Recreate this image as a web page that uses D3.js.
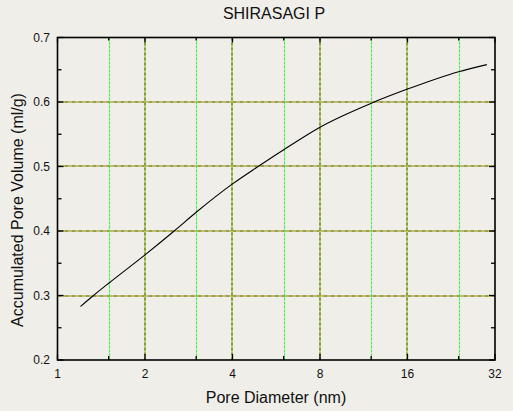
<!DOCTYPE html>
<html><head><meta charset="utf-8">
<script src="https://cdn.jsdelivr.net/npm/d3@7"></script>
<style>body{margin:0;background:#efeee9;}svg{display:block;font-family:"Liberation Sans",Arial,sans-serif;}</style>
</head><body>
<script>
const title = "SHIRASAGI P";
const xLabel = "Pore Diameter (nm)";
const yLabel = "Accumulated Pore Volume (ml/g)";
const poreDiameter = [1.2, 1.33, 1.5, 2, 2.52, 3, 4, 4.9, 6, 8, 12, 16, 24, 30];
const poreVolume  = [0.283, 0.300, 0.319, 0.363, 0.400, 0.429, 0.473, 0.500, 0.526, 0.561, 0.598, 0.620, 0.647, 0.658];
const xMajorTicks = [1, 2, 4, 8, 16, 32];
const xMinorTicks = [1.5, 3, 6, 12, 24];
const yMajorTicks = [0.2, 0.3, 0.4, 0.5, 0.6, 0.7];
const yMinorTicks = [0.25, 0.35, 0.45, 0.55, 0.65];

const W = 513, H = 411;
const m = {l: 57.5, r: 495, t: 37.5, b: 360};
const svg = d3.select("body").append("svg").attr("width", W).attr("height", H);
svg.append("rect").attr("width", W).attr("height", H).attr("fill", "#efeee9");

const x = d3.scaleLog().base(2).domain([1, 32]).range([m.l, m.r]);
const y = d3.scaleLinear().domain([0.2, 0.7]).range([m.b, m.t]);
const snap = v => Math.round(v);

const g = svg.append("g");
// horizontal grid
yMajorTicks.filter(v => v > 0.2 && v < 0.7).forEach(v => {
  const yy = snap(y(v));
  g.append("line").attr("x1", m.l).attr("x2", m.r).attr("y1", yy).attr("y2", yy)
    .attr("stroke", "#d4d49a").attr("stroke-width", 1.5);
  g.append("line").attr("x1", m.l).attr("x2", m.r).attr("y1", yy).attr("y2", yy)
    .attr("stroke", "#8a8a24").attr("stroke-width", 1.5).attr("stroke-dasharray", "4,1,1,1");
});
// minor vertical grid
xMinorTicks.forEach(v => {
  const xx = snap(x(v)) + 0.5;
  g.append("line").attr("x1", xx).attr("x2", xx).attr("y1", m.t).attr("y2", m.b)
    .attr("stroke", "#44ee44").attr("stroke-width", 1.1).attr("stroke-dasharray", "3,1");
});
// major vertical grid
xMajorTicks.filter(v => v > 1 && v < 32).forEach(v => {
  const xx = snap(x(v));
  g.append("line").attr("x1", xx).attr("x2", xx).attr("y1", m.t).attr("y2", m.b)
    .attr("stroke", "#9cd870").attr("stroke-width", 1.5);
  g.append("line").attr("x1", xx).attr("x2", xx).attr("y1", m.t).attr("y2", m.b)
    .attr("stroke", "#84841c").attr("stroke-width", 1.5).attr("stroke-dasharray", "3,2");
});

// curve
svg.append("path")
  .datum(poreDiameter.map((d, i) => [d, poreVolume[i]]))
  .attr("fill", "none").attr("stroke", "#000").attr("stroke-width", 1.1)
  .attr("d", d3.line().x(d => x(d[0])).y(d => y(d[1])).curve(d3.curveMonotoneX));

// frame
svg.append("rect").attr("x", m.l).attr("y", m.t).attr("width", m.r - m.l).attr("height", m.b - m.t)
  .attr("fill", "none").attr("stroke", "#000").attr("stroke-width", 1.6);

// ticks inward
const tk = svg.append("g").attr("stroke", "#000").attr("stroke-width", 1.3);
xMajorTicks.forEach(v => {
  tk.append("line").attr("x1", x(v)).attr("x2", x(v)).attr("y1", m.b).attr("y2", m.b - 6);
  tk.append("line").attr("x1", x(v)).attr("x2", x(v)).attr("y1", m.t).attr("y2", m.t + 5);
});
xMinorTicks.forEach(v => {
  tk.append("line").attr("x1", x(v)).attr("x2", x(v)).attr("y1", m.b).attr("y2", m.b - 4);
  tk.append("line").attr("x1", x(v)).attr("x2", x(v)).attr("y1", m.t).attr("y2", m.t + 3);
});
yMajorTicks.forEach(v => {
  tk.append("line").attr("x1", m.l).attr("x2", m.l + 6).attr("y1", y(v)).attr("y2", y(v));
  tk.append("line").attr("x1", m.r).attr("x2", m.r - 6).attr("y1", y(v)).attr("y2", y(v));
});
yMinorTicks.forEach(v => {
  tk.append("line").attr("x1", m.l).attr("x2", m.l + 4).attr("y1", y(v)).attr("y2", y(v));
  tk.append("line").attr("x1", m.r).attr("x2", m.r - 4).attr("y1", y(v)).attr("y2", y(v));
});

// tick labels
const fs = 12;
xMajorTicks.forEach(v => {
  svg.append("text").attr("x", x(v)).attr("y", 378).attr("text-anchor", "middle")
    .attr("font-size", fs).attr("fill", "#111").text(v);
});
yMajorTicks.forEach(v => {
  svg.append("text").attr("x", 50).attr("y", y(v) + 4).attr("text-anchor", "end")
    .attr("font-size", fs).attr("fill", "#111").text(v.toFixed(1));
});

// titles
svg.append("text").attr("x", 274).attr("y", 18.5).attr("text-anchor", "middle")
  .attr("font-size", 16).attr("fill", "#111").text(title);
svg.append("text").attr("x", 276).attr("y", 402.5).attr("text-anchor", "middle")
  .attr("font-size", 16).attr("fill", "#111").text(xLabel);
svg.append("text").attr("transform", `translate(23,210) rotate(-90)`)
  .attr("text-anchor", "middle").attr("font-size", 16).attr("fill", "#111").text(yLabel);
</script>
</body></html>
